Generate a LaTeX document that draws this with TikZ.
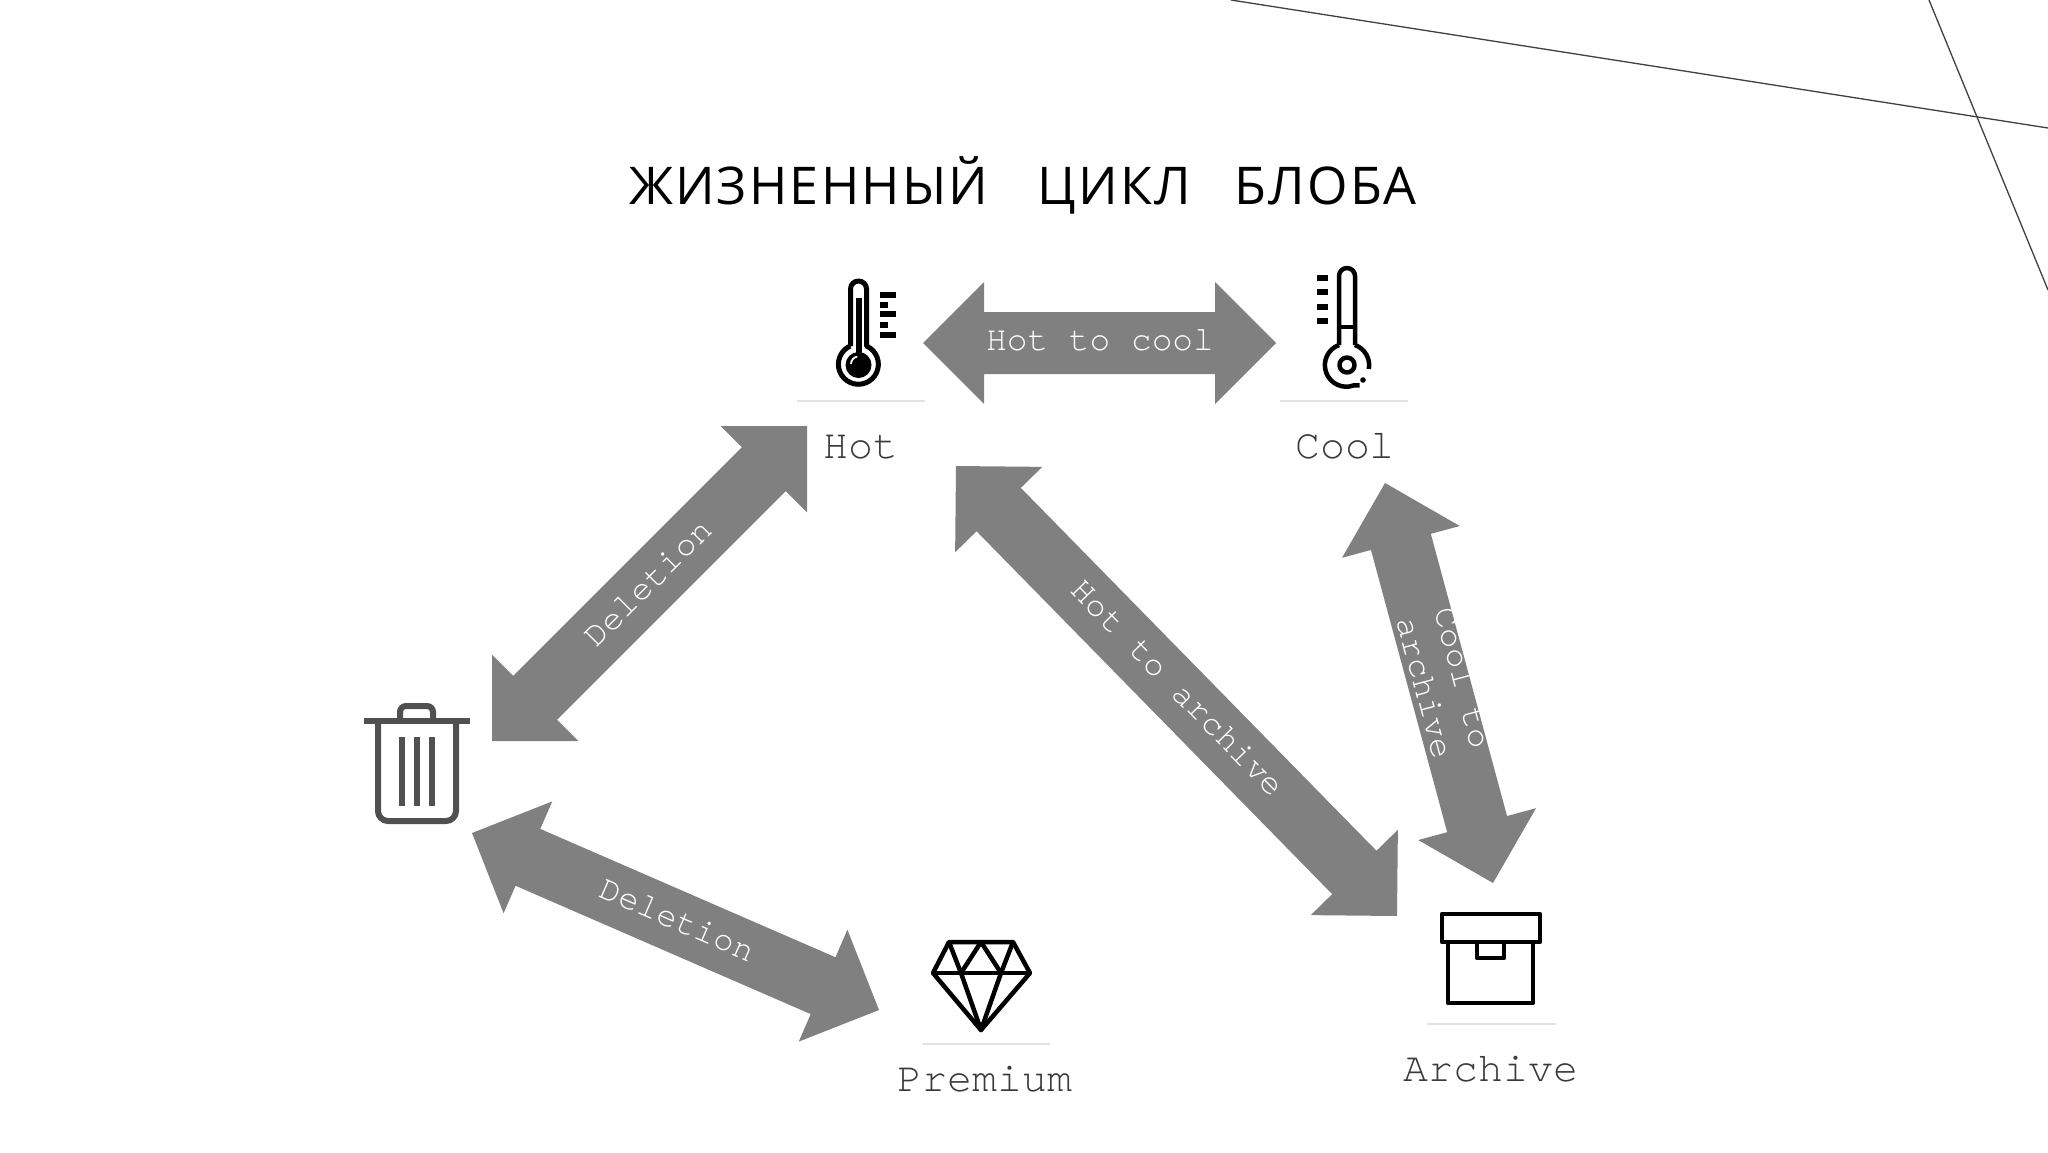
\documentclass[tikz,border=0pt]{standalone}
\usepackage{fontspec}
\usetikzlibrary{calc}
\newfontfamily\titlefont[LetterSpace=4.2]{Open Sans}
\newfontfamily\courierfont{TeX Gyre Cursor}
\definecolor{arrowgrey}{HTML}{808080}
\definecolor{labelgrey}{HTML}{3A3A3A}
\definecolor{rulegrey}{HTML}{E2E2E2}
\definecolor{trashgrey}{HTML}{505050}
\definecolor{cornerline}{HTML}{404040}
\tikzset{
  labeltext/.style={font=\courierfont\fontsize{41.5}{46}\selectfont,text=labelgrey,anchor=base,inner sep=0pt},
  arrowtext/.style={font=\courierfont\fontsize{34.5}{39}\selectfont,text=white,inner sep=0pt,align=center},
  rulerline/.style={draw=rulegrey,line width=1.5pt},
  icon/.style={draw=black,line width=4.5pt,line join=round,fill=none},
  trash/.style={draw=trashgrey,line width=6pt,fill=none},
  tick/.style={draw=black,line width=5.5pt},
  corner/.style={draw=cornerline,line width=1.3pt}
}
\newcommand{\bigarrow}[5]{%
  \coordinate (bp) at ($(#1)!#3!(#2)$);
  \coordinate (bq) at ($(#2)!#3!(#1)$);
  \fill[arrowgrey] (#1) -- ($(bp)!#4!90:(#2)$) -- ($(bp)!#5!90:(#2)$)
    -- ($(bq)!#5!-90:(#1)$) -- ($(bq)!#4!-90:(#1)$) -- (#2)
    -- ($(bq)!#4!90:(#1)$) -- ($(bq)!#5!90:(#1)$)
    -- ($(bp)!#5!-90:(#2)$) -- ($(bp)!#4!-90:(#2)$) -- cycle;
}
\begin{document}
\begin{tikzpicture}[x=1pt,y=-1pt]
\useasboundingbox (0,0) rectangle (2048,1152);
% corner lines
\coordinate (c1) at (1231,0); \coordinate (c2) at (2048,128);
\coordinate (c3) at (1929,0); \coordinate (c4) at (2048,290);
\draw[corner] (c1) -- (c2);
\draw[corner] (c3) -- (c4);
% title
\node[anchor=base,inner sep=0pt] (title) at (1023,204)
  {\titlefont\fontsize{52}{56}\selectfont ЖИЗНЕННЫЙ\hspace{0.95em}ЦИКЛ\hspace{0.85em}БЛОБА};
% arrow ends
\coordinate (hcA) at (923,343);  \coordinate (hcB) at (1276,343);
\coordinate (hdA) at (807,426);  \coordinate (hdB) at (492,741);
\coordinate (haA) at (956,466);  \coordinate (haB) at (1397,916);
\coordinate (caA) at (1385,483); \coordinate (caB) at (1493,883);
\coordinate (pdA) at (472,833);  \coordinate (pdB) at (879,1010);
\bigarrow{hcA}{hcB}{61pt}{61pt}{31pt}
\bigarrow{hdA}{hdB}{61pt}{61pt}{31pt}
\bigarrow{haA}{haB}{61pt}{61pt}{31pt}
\bigarrow{caA}{caB}{61pt}{61pt}{31pt}
\bigarrow{pdA}{pdB}{61pt}{61pt}{31pt}
% arrow texts
\node[arrowtext] (thc) at (1100,340) {Hot to cool};
\node[arrowtext,rotate=45] (thd) at (648,583) {Deletion};
\node[arrowtext,rotate=-45.6] (tha) at (1178,688) {Hot to archive};
\node[arrowtext,rotate=-75] (tca) at (1444,683) {Cool to\\archive};
\node[arrowtext,rotate=-23.5] (tpd) at (678,920) {Deletion};
% separators
\coordinate (s1a) at (797,401);  \coordinate (s1b) at (925,401);
\coordinate (s2a) at (1280,401); \coordinate (s2b) at (1408,401);
\coordinate (s3a) at (923,1044); \coordinate (s3b) at (1050,1044);
\coordinate (s4a) at (1427,1024);\coordinate (s4b) at (1556,1024);
\draw[rulerline] (s1a) -- (s1b);
\draw[rulerline] (s2a) -- (s2b);
\draw[rulerline] (s3a) -- (s3b);
\draw[rulerline] (s4a) -- (s4b);
% labels
\node[labeltext] (lhot) at (861,458) {Hot};
\node[labeltext] (lcool) at (1345,458) {Cool};
\node[labeltext] (lprem) at (985,1091) {Premium};
\node[labeltext] (larch) at (1491,1081) {Archive};
% hot thermometer
\draw[icon,line width=5pt] (850.5,346) -- (850.5,289) arc[start angle=180,end angle=360,radius=8] -- (866.5,346)
  arc[start angle=-66,end angle=246,radius=20];
\fill[black] (858.5,365) circle[radius=13];
\fill[black] (855.5,298) rectangle (861.5,360);
\draw[white,line width=1.8pt] (851,364) arc[start angle=180,end angle=260,radius=7.5];
\foreach \yy/\xx in {295/896,305/888,314/896,325/888,335/896}{\draw[tick] (880,\yy) -- (\xx,\yy);}
% cool thermometer
\draw[icon] (1339,345) -- (1339,276) arc[start angle=180,end angle=360,radius=8] -- (1355,345);
\draw[icon] (1339,327) -- (1355,327);
\draw[icon] (1339,345) arc[start angle=-110,end angle=-290,radius=21.5] -- ++(6,0);
\draw[icon] (1355,345) arc[start angle=-70,end angle=10,radius=21.5];
\draw[icon] (1347,365) circle[radius=7.5];
\fill[black] (1363,380) circle[radius=2.8];
\foreach \yy in {278,292,307,321}{\draw[tick] (1317,\yy) -- (1328,\yy);}
% trash
\draw[trash] (364,721) -- (470,721);
\draw[trash] (400,721) -- (400,712) arc[start angle=180,end angle=270,radius=6] -- (427,706) arc[start angle=270,end angle=360,radius=6] -- (433,721);
\draw[trash] (378,721) -- (378,811) arc[start angle=180,end angle=90,radius=10] -- (446,821) arc[start angle=90,end angle=0,radius=10] -- (456,721);
\foreach \xx in {402,417,432}{\draw[trash] (\xx,737) -- (\xx,806);}
% diamond
\draw[icon] (949,942) -- (1013,942) -- (1030,973) -- (981,1030) -- (933,973) -- cycle;
\draw[icon] (933,973) -- (1030,973);
\draw[icon] (949,942) -- (961,973) -- (981,1030) -- (1001,973) -- (1013,942);
\draw[icon] (961,973) -- (981,942) -- (1001,973);
% archive box
\draw[icon] (1442,914) rectangle (1540,942);
\draw[icon] (1448,942) -- (1448,1003) -- (1533,1003) -- (1533,942);
\draw[icon] (1477,942) -- (1477,958) -- (1504,958) -- (1504,942);
\end{tikzpicture}
\end{document}
